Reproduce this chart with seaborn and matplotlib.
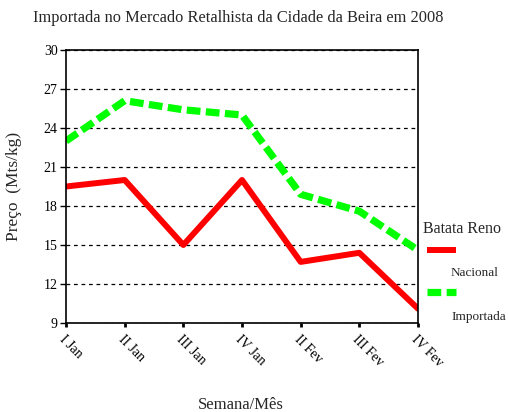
import matplotlib
matplotlib.use("Agg")
import matplotlib.pyplot as plt
import seaborn as sns
import numpy as np
import pandas as pd
from matplotlib.lines import Line2D

semanas = ["I Jan", "II Jan", "III Jan", "IV Jan", "II Fev", "III Fev", "IV Fev"]
nacional = [19.5, 20.0, 15.0, 20.0, 13.7, 14.4, 10.1]
importada = [23.0, 26.1, 25.4, 25.0, 18.9, 17.6, 14.6]
yticks = [9, 12, 15, 18, 21, 24, 27, 30]

sns.set_style("white")
plt.rcParams["font.family"] = ["Liberation Serif", "DejaVu Serif"]

pos = np.arange(len(semanas))
df = pd.DataFrame({"pos": np.concatenate([pos, pos]),
                   "preco": nacional + importada,
                   "serie": ["Nacional"] * len(pos) + ["Importada"] * len(pos)})

fig = plt.figure(figsize=(5.08, 4.12), dpi=100)
ax = fig.add_axes([66 / 508, 1 - 323 / 412, (418 - 66) / 508, (323 - 50) / 412])

sns.lineplot(data=df[df.serie == "Nacional"], x="pos", y="preco", color="#ff0000",
             linewidth=4.3, legend=False, ax=ax, sort=False)
sns.lineplot(data=df[df.serie == "Importada"], x="pos", y="preco", color="#00ff00",
             linewidth=5.2, legend=False, ax=ax, sort=False, dashes=False)
ax.lines[-1].set_dashes((1.9, 0.75))
ax.lines[-1].set_solid_capstyle("butt")

ax.set_xlim(0, len(semanas) - 1)
ax.set_ylim(9, 30)
ax.set_yticks(yticks)
ax.set_xticks(pos)
ax.set_xticklabels(semanas, rotation=-45, ha="left", va="top", rotation_mode="anchor", fontsize=10)
ax.tick_params(axis="y", labelsize=10, length=4, width=1, direction="out", left=True, pad=2, colors="black")
ax.tick_params(axis="x", length=3, width=2, direction="out", bottom=True, pad=4, colors="black")

ax.yaxis.grid(True, linestyle=(0, (3, 3)), color="black", linewidth=0.9)
ax.xaxis.grid(False)
for s in ax.spines.values():
    s.set_color("black")
    s.set_linewidth(1.2)
    s.set_visible(True)

ax.set_ylabel("Preço  (Mts/kg)", fontsize=12.5)
ax.yaxis.set_label_coords(-0.125, 0.5)
ax.set_xlabel("Semana/Mês", fontsize=12)
ax.xaxis.set_label_coords(0.497, -0.27)

fig.text(238 / 508, 1 - 18 / 412, "Importada no Mercado Retalhista da Cidade da Beira em 2008",
         ha="center", va="center", fontsize=11.8)

# legend
fig.text(423 / 508, 1 - 229 / 412, "Batata Reno", ha="left", va="center", fontsize=11.5)
fig.add_artist(Line2D([427 / 508, 456 / 508], [1 - 250 / 412, 1 - 250 / 412],
                      color="#ff0000", linewidth=4.3, transform=fig.transFigure, solid_capstyle="butt"))
fig.text(451 / 508, 1 - 273 / 412, "Nacional", ha="left", va="center", fontsize=9.5)
fig.add_artist(Line2D([427 / 508, 456 / 508], [1 - 292 / 412, 1 - 292 / 412],
                      color="#00ff00", linewidth=5.2, dashes=(1.9, 0.75), transform=fig.transFigure))
fig.text(451 / 508, 1 - 317 / 412, "Importada", ha="left", va="center", fontsize=9.5)

fig.savefig("out.png", dpi=100)
